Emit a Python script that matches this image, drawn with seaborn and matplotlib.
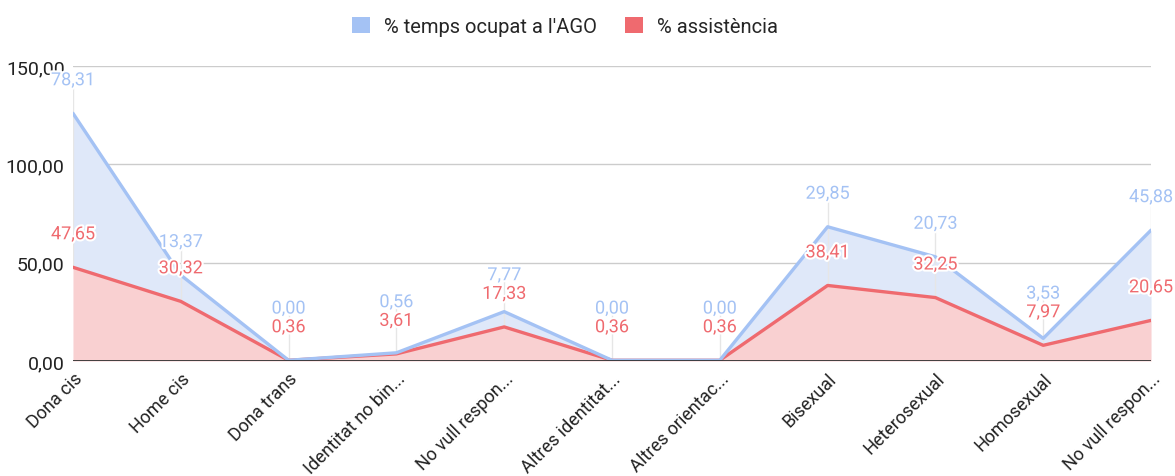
import numpy as np
import pandas as pd
import matplotlib
matplotlib.use('Agg')
import matplotlib.pyplot as plt
import matplotlib.patheffects as pe
from matplotlib.patches import Patch
import seaborn as sns

# --- data ---
categories = ['Dona cis', 'Home cis', 'Dona trans', 'Identitat no bin...',
              'No vull respon...', 'Altres identitat...', 'Altres orientac...',
              'Bisexual', 'Heterosexual', 'Homosexual', 'No vull respon...']
assistencia = [47.65, 30.32, 0.36, 3.61, 17.33, 0.36, 0.36, 38.41, 32.25, 7.97, 20.65]
temps_ago = [78.31, 13.37, 0.00, 0.56, 7.77, 0.00, 0.00, 29.85, 20.73, 3.53, 45.88]
y_ticks = [0, 50, 100, 150]

BLUE = '#a4c2f4'
RED = '#ef6a6f'
BLUE_FILL = '#dfe8f9'
RED_FILL = '#f9d0d1'

sns.set_theme(style='white')
plt.rcParams['font.family'] = ['Roboto', 'DejaVu Sans']

x = np.arange(len(categories))
red = np.array(assistencia)
top = red + np.array(temps_ago)   # stacked area: blue sits on red

df = pd.DataFrame({'x': np.concatenate([x, x]),
                   'y': np.concatenate([red, top]),
                   'serie': ['red'] * len(x) + ['blue'] * len(x)})

fig = plt.figure(figsize=(11.75, 4.77), dpi=100)
ax = fig.add_axes([0.0621, 0.2411, 0.9175, 0.6184])

ax.fill_between(x, 0, red, color=RED_FILL, lw=0, zorder=1)
ax.fill_between(x, red, top, color=BLUE_FILL, lw=0, zorder=1)
sns.lineplot(data=df, x='x', y='y', hue='serie', palette={'red': RED, 'blue': BLUE},
             linewidth=2.4, legend=False, ax=ax, zorder=3)

ax.set_xlim(0, len(x) - 1)
ax.set_ylim(0, 150)
ax.set_yticks(y_ticks)
ax.set_yticklabels([f'{v:.2f}'.replace('.', ',') for v in y_ticks], fontsize=14, color='#222222')
ax.yaxis.grid(True, color='#cccccc', lw=1)
ax.axhline(0, color='#333333', lw=1.3, zorder=4)
for s in ax.spines.values():
    s.set_visible(False)
ax.tick_params(axis='y', length=0, pad=6)
ax.tick_params(axis='x', length=0, pad=6)
ax.set_xticks(x)
ax.set_xticklabels(categories, rotation=45, ha='right', rotation_mode='anchor',
                   fontsize=13, color='#222222')
ax.set_xlabel('')
ax.set_ylabel('')

# data labels with stems, as in the source chart
stroke = [pe.withStroke(linewidth=3, foreground='white')]
off = 16.8
for i in x:
    ry = red[i] + off
    by = max(top[i] + off, ry + 9.5)
    ax.plot([i, i], [red[i], by - 2], color='#e6e6e6', lw=1, zorder=2)
    ax.text(i, ry, f'{assistencia[i]:.2f}'.replace('.', ','), color=RED, fontsize=13,
            ha='center', va='center', path_effects=stroke, zorder=5, clip_on=False)
    ax.text(i, by, f'{temps_ago[i]:.2f}'.replace('.', ','), color=BLUE, fontsize=13,
            ha='center', va='center', path_effects=stroke, zorder=5, clip_on=False)

handles = [Patch(facecolor=BLUE, edgecolor='none', label="% temps ocupat a l'AGO"),
           Patch(facecolor=RED, edgecolor='none', label='% assistència')]
fig.legend(handles=handles, loc='center', bbox_to_anchor=(0.481, 0.943), ncol=2,
           frameon=False, fontsize=14.5, handlelength=0.9, handleheight=0.9,
           columnspacing=1.4, handletextpad=0.7)

fig.savefig('out.png', dpi=100)
